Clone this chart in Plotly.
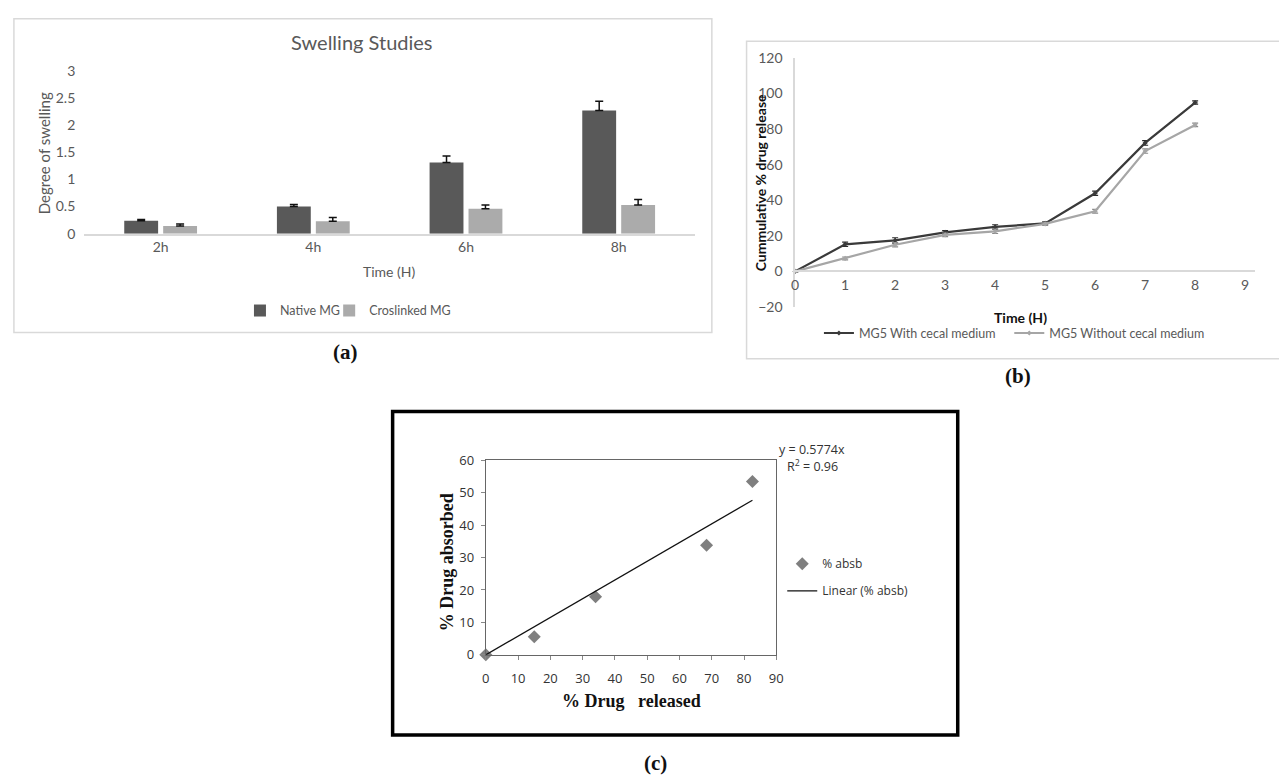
import plotly.graph_objects as go

W, H = 1279, 783


def px(x):
    return x / W


def py(y):
    return 1 - y / H


# ---------------- data: (a) swelling studies ----------------
swell_times = ["2h", "4h", "6h", "8h"]
native_mg = [0.24, 0.50, 1.31, 2.27]
native_err = [0.02, 0.04, 0.12, 0.17]
crosslinked_mg = [0.14, 0.23, 0.46, 0.53]
crosslinked_err = [0.04, 0.07, 0.07, 0.10]
swell_yticks = [0, 0.5, 1, 1.5, 2, 2.5, 3]
zero_minus = [0, 0, 0, 0]

# ---------------- data: (b) drug release ----------------
release_hours = [0, 1, 2, 3, 4, 5, 6, 7, 8]
with_cecal = [0, 15.2, 17.4, 21.9, 25.0, 27.0, 43.9, 72.2, 94.9]
with_cecal_err = [0.5, 1.2, 1.5, 1.0, 1.2, 0.8, 1.2, 1.3, 0.9]
without_cecal = [0, 7.3, 15.0, 20.5, 22.5, 26.7, 33.8, 67.6, 82.3]
without_cecal_err = [0.5, 0.8, 1.2, 1.0, 1.2, 0.8, 1.0, 1.2, 1.0]
release_yticks = [-20, 0, 20, 40, 60, 80, 100, 120]
release_xticks = [0, 1, 2, 3, 4, 5, 6, 7, 8, 9]

# ---------------- data: (c) correlation ----------------
drug_released = [0, 15.0, 34.0, 68.4, 82.6]
drug_absorbed = [0, 5.6, 17.9, 33.8, 53.5]
trend_slope = 0.5774
trend_r2 = 0.96
corr_xticks = [0, 10, 20, 30, 40, 50, 60, 70, 80, 90]
corr_yticks = [0, 10, 20, 30, 40, 50, 60]

SANS = "Lato"
GREY_TXT = "#595959"

fig = go.Figure()

# (a) bars
fig.add_trace(go.Bar(
    x=swell_times, y=native_mg, name="Native MG",
    marker=dict(color="#595959", line=dict(width=0)),
    error_y=dict(type="data", symmetric=False, array=native_err, arrayminus=zero_minus,
                 color="#111111", thickness=1.5, width=4),
    xaxis="x", yaxis="y", legend="legend",
))
fig.add_trace(go.Bar(
    x=swell_times, y=crosslinked_mg, name="Croslinked MG",
    marker=dict(color="#ababab", line=dict(width=0)),
    error_y=dict(type="data", symmetric=False, array=crosslinked_err, arrayminus=zero_minus,
                 color="#111111", thickness=1.5, width=4),
    xaxis="x", yaxis="y", legend="legend4",
))

# (b) lines
fig.add_trace(go.Scatter(
    x=release_hours, y=with_cecal, name="MG5 With cecal medium", mode="lines+markers",
    line=dict(color="#3a3a3a", width=2.2),
    marker=dict(symbol="diamond", size=4, color="#3a3a3a"),
    error_y=dict(type="data", array=with_cecal_err, color="#2a2a2a", thickness=1.2, width=3),
    xaxis="x2", yaxis="y2", legend="legend2", cliponaxis=False,
))
fig.add_trace(go.Scatter(
    x=release_hours, y=without_cecal, name="MG5 Without cecal medium", mode="lines+markers",
    line=dict(color="#a6a6a6", width=2.2),
    marker=dict(symbol="diamond", size=4, color="#a6a6a6"),
    error_y=dict(type="data", array=without_cecal_err, color="#8a8a8a", thickness=1.2, width=3),
    xaxis="x2", yaxis="y2", legend="legend5", cliponaxis=False,
))

# (c) scatter + trend
fig.add_trace(go.Scatter(
    x=drug_released, y=drug_absorbed, name="% absb", mode="markers",
    marker=dict(symbol="diamond", size=10, color="#7f7f7f"),
    xaxis="x3", yaxis="y3", legend="legend3", legendgroup="g1", cliponaxis=False,
))
trend_x = [0, max(drug_released)]
trend_y = [trend_slope * v for v in trend_x]
fig.add_trace(go.Scatter(
    x=trend_x, y=trend_y, name="Linear (% absb)", mode="lines",
    line=dict(color="#111111", width=1.3),
    xaxis="x3", yaxis="y3", legend="legend3", legendgroup="g2",
))

axis_common = dict(showgrid=False, zeroline=False, fixedrange=True)


def leg(x, y, font, xanchor="left", yanchor="middle", **kw):
    d = dict(orientation="h", x=px(x), xanchor=xanchor, y=py(y), yanchor=yanchor,
             font=font, bgcolor="rgba(0,0,0,0)", itemwidth=30)
    d.update(kw)
    return d


font_a = dict(family=SANS, size=12.5, color=GREY_TXT)
font_b = dict(family=SANS, size=12.5, color=GREY_TXT)

fig.update_layout(
    width=W, height=H,
    margin=dict(l=0, r=0, t=0, b=0),
    paper_bgcolor="white", plot_bgcolor="rgba(0,0,0,0)",
    showlegend=True,
    barmode="group", bargap=0.49, bargroupgap=0.13,
    font=dict(family=SANS, color=GREY_TXT, size=13),
    # (a)
    xaxis=dict(domain=[px(81), px(697)], anchor="y", type="category",
               showline=True, linecolor="#d9d9d9", linewidth=1.5, ticks="",
               tickfont=dict(family=SANS, size=14, color=GREY_TXT), **axis_common),
    yaxis=dict(domain=[py(230), py(63.3)], anchor="x", range=[0, 3],
               tickvals=swell_yticks, ticks="", showline=False, ticklabelstandoff=8,
               tickfont=dict(family=SANS, size=14, color=GREY_TXT), **axis_common),
    # (b)
    xaxis2=dict(domain=[px(798), px(1262)], anchor="free", position=py(268), range=[0, 9.2],
                tickvals=release_xticks, ticks="", showline=True, linecolor="#d9d9d9",
                linewidth=1.5, ticklabelstandoff=2,
                tickfont=dict(family=SANS, size=14, color=GREY_TXT), **axis_common),
    yaxis2=dict(domain=[py(305), py(50)], anchor="x2", range=[-20, 120],
                tickvals=release_yticks, ticks="", showline=True, linecolor="#d9d9d9",
                linewidth=1.5, ticklabelstandoff=8,
                tickfont=dict(family=SANS, size=14, color=GREY_TXT), **axis_common),
    # (c)
    xaxis3=dict(domain=[px(486), px(779)], anchor="y3", range=[0, 90],
                tickvals=corr_xticks, ticks="outside", ticklen=4, tickcolor="#888888",
                showline=True, mirror=True, linecolor="#666666", linewidth=1,
                ticklabelstandoff=8,
                tickfont=dict(family="Open Sans", size=13, color="#333333"), **axis_common),
    yaxis3=dict(domain=[py(661), py(462)], anchor="x3", range=[0, 60],
                tickvals=corr_yticks, ticks="outside", ticklen=4, tickcolor="#888888",
                showline=True, mirror=True, linecolor="#666666", linewidth=1,
                ticklabelstandoff=4,
                tickfont=dict(family="Open Sans", size=13, color="#333333"), **axis_common),
    legend=leg(238, 309, font_a),
    legend4=leg(328, 309, font_a),
    legend2=leg(822, 332, font_b),
    legend5=leg(1014, 332, font_b),
    legend3=dict(orientation="v", x=px(785), xanchor="left", y=py(553), yanchor="top",
                 font=dict(family="Open Sans", size=12, color="#333333"),
                 bgcolor="rgba(0,0,0,0)", tracegroupgap=8, itemwidth=30),
)

annotations = [
    # (a)
    dict(text="Swelling Studies", x=px(361), y=py(34), font=dict(family=SANS, size=20, color=GREY_TXT)),
    dict(text="Degree of swelling", x=px(40), y=py(148), textangle=-90,
         font=dict(family=SANS, size=15, color=GREY_TXT)),
    dict(text="Time (H)", x=px(389), y=py(269), font=dict(family=SANS, size=14, color=GREY_TXT)),
    dict(text="<b>(a)</b>", x=px(344), y=py(351), font=dict(family="Liberation Serif", size=21, color="#111111")),
    # (b)
    dict(text="<b>Cummulative % drug release</b>", x=px(763), y=py(178), textangle=-90,
         font=dict(family=SANS, size=14, color="#111111")),
    dict(text="<b>Time (H)</b>", x=px(1025), y=py(316), font=dict(family=SANS, size=14, color="#111111")),
    dict(text="<b>(b)</b>", x=px(1023), y=py(376), font=dict(family="Liberation Serif", size=21, color="#111111")),
    # (c)
    dict(text="<b>% Drug absorbed</b>", x=px(447), y=py(566), textangle=-90,
         font=dict(family="Liberation Serif", size=18, color="#111111")),
    dict(text="<b>% Drug&nbsp;&nbsp; released</b>", x=px(633), y=py(708),
         font=dict(family="Liberation Serif", size=18, color="#111111")),
    dict(text="y = 0.5774x", x=px(780), y=py(451), xanchor="left",
         font=dict(family="Open Sans", size=12.5, color="#333333")),
    dict(text="R<sup>2</sup> = %.2f" % trend_r2, x=px(788), y=py(468), xanchor="left",
         font=dict(family="Open Sans", size=12.5, color="#333333")),
    dict(text="<b>(c)</b>", x=px(657), y=py(772), font=dict(family="Liberation Serif", size=21, color="#111111")),
]
for a in annotations:
    a.setdefault("xref", "paper")
    a.setdefault("yref", "paper")
    a.setdefault("xanchor", "center")
    a.setdefault("yanchor", "middle")
    a.setdefault("showarrow", False)
fig.update_layout(annotations=annotations)

shapes = [
    dict(type="rect", x0=px(10), x1=px(714), y0=py(331), y1=py(10),
         line=dict(color="#d9d9d9", width=1.5)),
    dict(type="rect", x0=px(749), x1=px(1290), y0=py(358), y1=py(33),
         line=dict(color="#d9d9d9", width=1.5)),
    dict(type="rect", x0=px(392), x1=px(962), y0=py(743), y1=py(412),
         line=dict(color="#000000", width=3.5)),
]
for s in shapes:
    s["xref"] = "paper"
    s["yref"] = "paper"
    s["layer"] = "below"
fig.update_layout(shapes=shapes)

fig.write_html(
    "out.html",
    config={"displayModeBar": False},
    post_script="document.body.style.margin='0';document.body.style.overflow='hidden';",
)
